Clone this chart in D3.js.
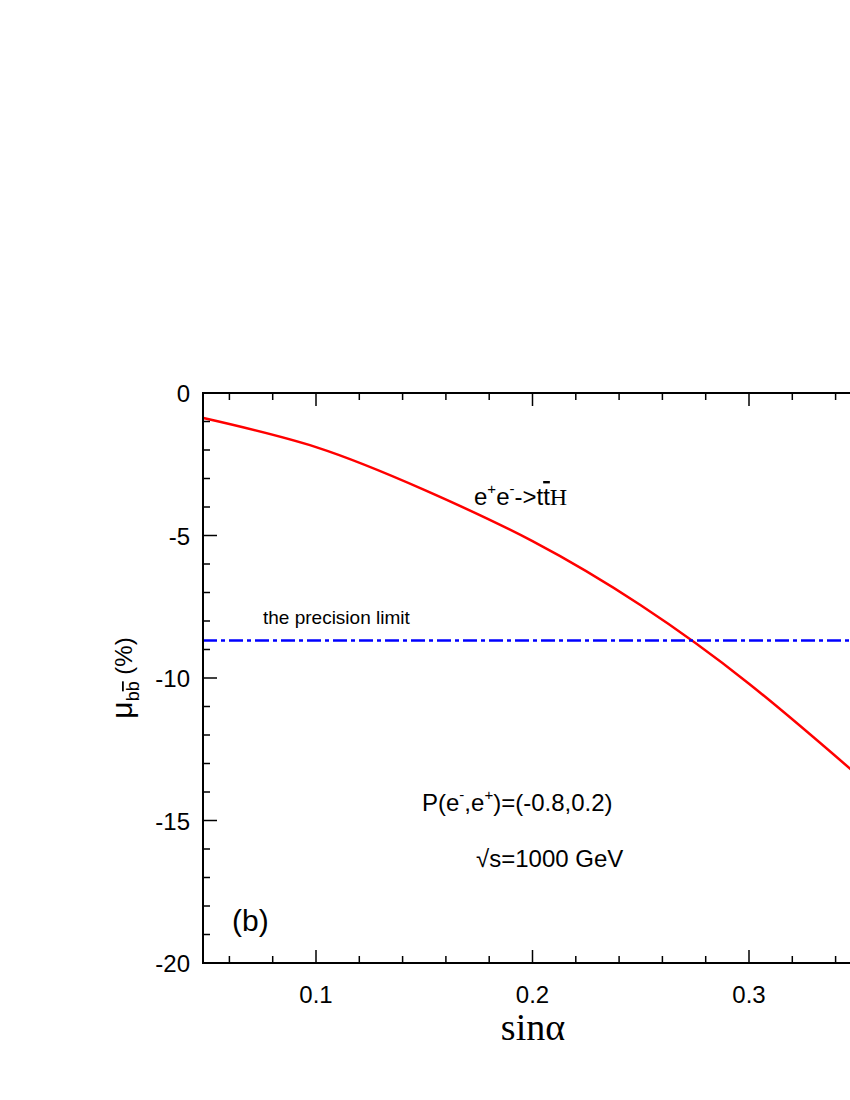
<!DOCTYPE html><html><head><meta charset="utf-8"><script src="https://cdn.jsdelivr.net/npm/d3@7"></script>
<style>body{margin:0;background:#fff}</style></head><body><svg id="c" width="850" height="1100"></svg><script>
const sinA=[0.048,0.1,0.15,0.2,0.25,0.3,0.35];
const mu=[-0.88,-1.9,-3.4,-5.2,-7.45,-10.2,-13.4];
const precisionLimit=-8.68;
const xMajor=[0.1,0.2,0.3];
const yMajor=[0,-5,-10,-15,-20];
const svg=d3.select("#c");
const x=d3.scaleLinear().domain([0.1,0.3]).range([316,749]);
const y=d3.scaleLinear().domain([-20,0]).range([963,393]);
const F="Liberation Sans, Arial, sans-serif";
const g=svg.append("g");
g.append("defs").append("clipPath").attr("id","cp").append("rect").attr("x",203).attr("y",393).attr("width",700).attr("height",570);
const line=d3.line().x((d,i)=>x(sinA[i])).y(d=>y(d)).curve(d3.curveNatural);
g.append("path").attr("d",line(mu)).attr("fill","none").attr("stroke","#f00").attr("stroke-width",2.5).attr("clip-path","url(#cp)");
g.append("line").attr("x1",203).attr("x2",x(0.36)).attr("y1",y(precisionLimit)).attr("y2",y(precisionLimit)).attr("stroke","#00f").attr("stroke-width",2.5).attr("stroke-dasharray","14,4,4,4");
g.append("rect").attr("x",203).attr("y",393).attr("width",700).attr("height",570).attr("fill","none").attr("stroke","#000").attr("stroke-width",2);
const xMinor=d3.range(6,36,2).map(v=>v/100);
const isMaj=d=>xMajor.some(m=>Math.abs(m-d)<1e-6);
g.selectAll(".xm").data(xMinor).enter().append("line").attr("x1",d=>x(d)).attr("x2",d=>x(d)).attr("y1",963).attr("y2",d=>isMaj(d)?950:956).attr("stroke","#000").attr("stroke-width",1.5);
g.selectAll(".xt").data(xMinor).enter().append("line").attr("x1",d=>x(d)).attr("x2",d=>x(d)).attr("y1",393).attr("y2",d=>isMaj(d)?406:400).attr("stroke","#000").attr("stroke-width",1.5);
const yMinor=d3.range(-20,1,1);
g.selectAll(".ym").data(yMinor).enter().append("line").attr("x1",203).attr("x2",d=>d%5===0?217:210).attr("y1",d=>y(d)).attr("y2",d=>y(d)).attr("stroke","#000").attr("stroke-width",1.5);
g.selectAll(".xl").data(xMajor).enter().append("text").attr("x",d=>x(d)).attr("y",1003).attr("text-anchor","middle").attr("font-family",F).attr("font-size",24).text(d=>d.toFixed(1));
g.selectAll(".yl").data(yMajor).enter().append("text").attr("x",190).attr("y",d=>y(d)+9).attr("text-anchor","end").attr("font-family",F).attr("font-size",24).text(d=>d);
svg.append("text").attr("x",533).attr("y",1040).attr("text-anchor","middle").attr("font-family","Liberation Serif, serif").attr("font-size",38).text("sinα");
const yl=svg.append("text").attr("transform","translate(132,678) rotate(-90)").attr("text-anchor","middle").attr("font-family",F).attr("font-size",30);
yl.append("tspan").text("μ");
yl.append("tspan").attr("font-size",18).attr("dy",7).text("b");
yl.append("tspan").attr("font-size",18).style("text-decoration","overline").text("b");
yl.append("tspan").attr("dy",-7).attr("font-size",24).text(" (%)");
const t1=svg.append("text").attr("x",474).attr("y",505).attr("font-family",F).attr("font-size",24);
t1.append("tspan").text("e");t1.append("tspan").attr("font-size",15).attr("dy",-11).text("+");
t1.append("tspan").attr("dy",11).text("e");t1.append("tspan").attr("font-size",15).attr("dy",-11).text("-");
t1.append("tspan").attr("dy",11).text("->t");t1.append("tspan").style("text-decoration","overline").text("t");
t1.append("tspan").attr("font-family","Liberation Serif, serif").text("H");
svg.append("text").attr("x",263).attr("y",624).attr("font-family",F).attr("font-size",19).text("the precision limit");
const t2=svg.append("text").attr("x",422).attr("y",811).attr("font-family",F).attr("font-size",24);
t2.append("tspan").text("P(e");t2.append("tspan").attr("font-size",15).attr("dy",-11).text("-");
t2.append("tspan").attr("dy",11).text(",e");t2.append("tspan").attr("font-size",15).attr("dy",-11).text("+");
t2.append("tspan").attr("dy",11).text(")=(-0.8,0.2)");
svg.append("text").attr("x",476).attr("y",867).attr("font-family",F).attr("font-size",24).text("√s=1000 GeV");
svg.append("text").attr("x",232).attr("y",931).attr("font-family",F).attr("font-size",30).text("(b)");
</script></body></html>
